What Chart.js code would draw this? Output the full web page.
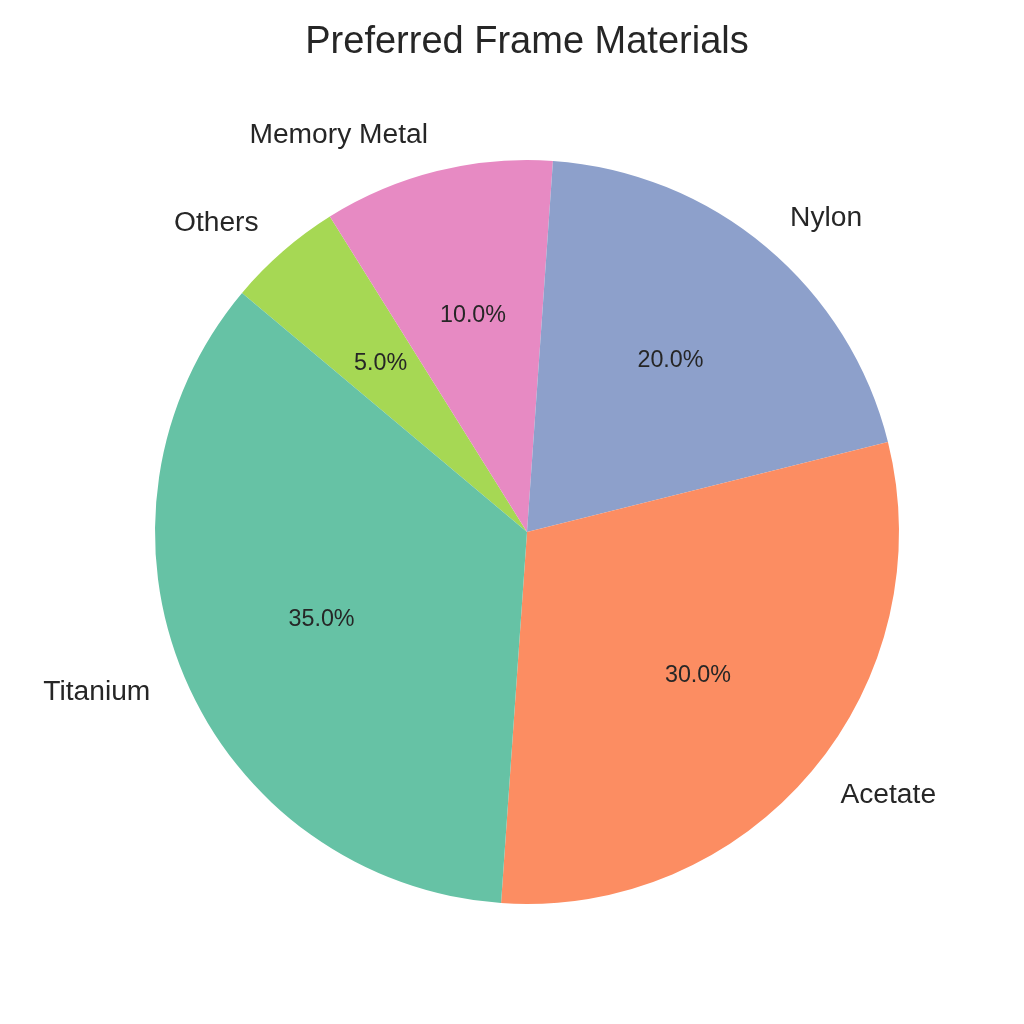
<!DOCTYPE html>
<html>
<head>
<meta charset="utf-8">
<title>Preferred Frame Materials</title>
<script src="https://cdn.jsdelivr.net/npm/chart.js@4/dist/chart.umd.min.js"></script>
<style>
  html, body { margin: 0; padding: 0; background: #ffffff; }
  #pieChart { display: block; }
</style>
</head>
<body>
<canvas id="pieChart" width="1024" height="1024"></canvas>
<script>
// data, in the order the slices go round (counterclockwise from the upper left)
const materials = ["Titanium", "Acetate", "Nylon", "Memory Metal", "Others"];
const shares = [35, 30, 20, 10, 5];
const sliceColors = ["#66c2a5", "#fc8d62", "#8da0cb", "#e78ac3", "#a6d854"];

const textColor = "#262626";
const fontFam = "'Liberation Sans', Arial, sans-serif";

// chart.js goes clockwise, so feed it reversed
const labelsCw = materials.slice().reverse();
const valuesCw = shares.slice().reverse();
const colorsCw = sliceColors.slice().reverse();

// labels outside the pie + percentages inside
const sliceText = {
    id: "sliceText",
    afterDatasetsDraw(chart) {
        const ctx = chart.ctx;
        const meta = chart.getDatasetMeta(0);
        const vals = chart.data.datasets[0].data;
        const total = vals.reduce((s, v) => s + v, 0);
        ctx.save();
        ctx.fillStyle = textColor;
        ctx.textBaseline = "middle";
        meta.data.forEach((arc, i) => {
            const p = arc.getProps(["x", "y", "startAngle", "endAngle", "outerRadius"], true);
            const mid = (p.startAngle + p.endAngle) / 2;
            const c = Math.cos(mid), s = Math.sin(mid);

            ctx.font = "28.2px " + fontFam;
            ctx.textAlign = c > 0 ? "left" : "right";
            ctx.fillText(chart.data.labels[i], p.x + c * p.outerRadius * 1.1, p.y + s * p.outerRadius * 1.1);

            ctx.font = "23.3px " + fontFam;
            ctx.textAlign = "center";
            const pct = (vals[i] / total * 100).toFixed(1) + "%";
            ctx.fillText(pct, p.x + c * p.outerRadius * 0.6, p.y + s * p.outerRadius * 0.6);
        });
        ctx.restore();
    }
};

new Chart(document.getElementById("pieChart").getContext("2d"), {
    type: "pie",
    data: {
        labels: labelsCw,
        datasets: [{
            data: valuesCw,
            backgroundColor: colorsCw,
            borderWidth: 0,
            hoverOffset: 0,
            offset: 0
        }]
    },
    options: {
        responsive: false,
        animation: false,
        devicePixelRatio: 1,
        rotation: -50,
        layout: {
            padding: { left: 155, right: 125, top: 0, bottom: 120 }
        },
        plugins: {
            legend: { display: false },
            tooltip: { enabled: false },
            title: {
                display: true,
                text: "Preferred Frame Materials",
                color: textColor,
                font: { family: fontFam, size: 38, weight: "normal", lineHeight: 1.2 },
                padding: { top: 20, bottom: 94.4 }
            }
        }
    },
    plugins: [sliceText]
});
</script>
</body>
</html>
